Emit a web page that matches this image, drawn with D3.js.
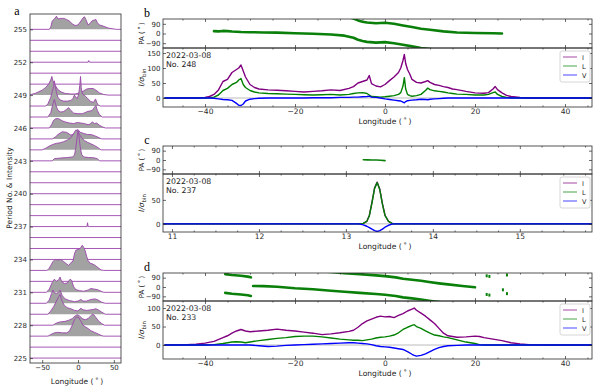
<!DOCTYPE html>
<html>
<head>
<meta charset="utf-8">
<script src="https://cdn.jsdelivr.net/npm/d3@7"></script>
<style>
  body { margin: 0; background: #fff; }
  svg { display: block; font-family: "DejaVu Sans", sans-serif; }
</style>
</head>
<body>
<svg id="chart"></svg>
<script>
const width = 600;
const height = 388;

// ---------- panel a : stacked profiles, heights in units of row spacing ----------
const aPeriods = [225, 226, 227, 228, 229, 230, 231, 232, 233, 234, 235, 236, 237, 238, 239, 240,
  241, 242, 243, 244, 245, 246, 247, 248, 249, 250, 251, 252, 253, 254, 255];
const aPeriodTicks = [225, 228, 231, 234, 237, 240, 243, 246, 249, 252, 255];
const aLonTicks = [-50, 0, 50];

const p255 = [[-40, 0], [-38, 0.2], [-36, 0.75], [-33, 0.95], [-30, 1.2], [-28, 0.95], [-24, 1.0], [-20, 1.0],
  [-16, 0.9], [-12, 0.75], [-8, 0.5], [-4, 0.35], [0, 0.4], [4, 0.75], [7, 1.05], [9, 1.15], [11, 0.9], [14, 0.4],
  [17, 0.55], [20, 0.8], [23, 0.85], [25, 0.9], [27, 0.6], [30, 0.4], [35, 0.3], [42, 0.12], [50, 0.03], [54, 0]];
const p252 = [[14, 0], [15, 0.15], [16, 0]];
const p249 = [[-66, 0.05], [-60, 0.15], [-55, 0.3], [-50, 0.45], [-45, 0.7], [-41, 1.0], [-38, 1.4], [-36.5, 1.7],
  [-35, 1.3], [-32, 0.9], [-28, 0.5], [-24, 0.3], [-18, 0.15], [-10, 0.1], [-4, 0.1], [2, 0.2], [7, 0.35],
  [12, 0.55], [16, 0.6], [21, 0.6], [25, 0.45], [30, 0.2], [36, 0.05], [42, 0]];
const p248 = [[-45, 0], [-42, 0.2], [-38, 0.8], [-36, 1.3], [-34, 1.8], [-33, 2.3], [-32, 1.9], [-30, 1.2],
  [-28, 0.8], [-25, 0.55], [-20, 0.45], [-15, 0.45], [-10, 0.5], [-7, 0.7], [-5, 1.0], [-3, 0.8], [-1, 0.7],
  [1, 1.1], [2.5, 1.9], [3.5, 2.7], [4.5, 1.7], [6, 1.1], [9, 1.0], [11, 0.85], [14, 0.65], [18, 0.4],
  [22, 0.35], [24.5, 0.65], [26, 0.35], [28, 0.1], [31, 0]];
const p247 = [[-42, 0], [-38, 0.4], [-35, 1.2], [-33, 1.6], [-31, 1.1], [-28, 0.6], [-24, 0.45], [-20, 0.5],
  [-16, 0.7], [-13, 0.85], [-10, 0.6], [-6, 0.35], [0, 0.3], [6, 0.3], [10, 0.4], [13, 0.5], [17, 0.55],
  [20, 0.6], [23, 0.9], [25, 1.05], [27, 0.6], [30, 0.2], [34, 0]];
const p246 = [[-40, 0], [-37, 0.3], [-34, 0.7], [-31, 0.85], [-27, 0.85], [-22, 0.65], [-18, 0.55], [-12, 0.45],
  [-6, 0.4], [-1, 0.5], [4, 0.45], [9, 0.4], [14, 0.3], [17, 0.35], [20, 0.55], [23, 0.4], [26, 0.45],
  [30, 0.25], [34, 0.1], [38, 0]];
const p245 = [[-36, 0], [-32, 0.15], [-28, 0.4], [-22, 0.65], [-16, 0.6], [-10, 0.35], [-6, 0.45], [-3, 0.75],
  [0, 0.85], [3, 0.6], [8, 0.5], [13, 0.4], [18, 0.4], [23, 0.3], [28, 0.15], [33, 0]];
const p244 = [[-50, 0], [-45, 0.15], [-40, 0.35], [-35, 0.5], [-30, 0.6], [-25, 0.65], [-20, 0.75], [-15, 0.9],
  [-10, 1.1], [-6, 1.5], [-3, 1.8], [-1, 1.75], [2, 1.4], [5, 1.1], [9, 0.85], [13, 0.7], [18, 0.55],
  [23, 0.4], [28, 0.2], [32, 0]];
const p243 = [[-36, 0], [-33, 0.2], [-25, 0.25], [-15, 0.3], [-8, 0.35], [-5, 0.5], [-3, 1.2], [-1, 2.3],
  [0, 2.7], [1, 2.4], [3, 1.3], [5, 0.6], [8, 0.35], [15, 0.3], [22, 0.28], [27, 0.2], [30, 0]];
const p237 = [[12.5, 0], [13.3, 0.35], [14.1, 0]];
const p233 = [[-44, 0], [-41, 0.1], [-38, 0.45], [-35, 0.8], [-32, 1.0], [-28, 0.95], [-24, 1.0], [-20, 0.8],
  [-16, 0.6], [-13, 0.45], [-10, 0.7], [-7, 0.85], [-5, 1.5], [-3, 1.85], [0, 1.9], [3, 2.0], [6, 2.3],
  [8, 2.1], [10, 1.8], [12, 1.3], [14, 0.9], [17, 0.65], [20, 0.6], [24, 0.45], [28, 0.25], [32, 0.05], [36, 0]];
const p231 = [[-44, 0], [-40, 0.3], [-36, 0.9], [-33, 1.2], [-30, 1.0], [-27, 1.15], [-25, 1.4], [-23, 1.0],
  [-19, 0.8], [-15, 0.85], [-11, 1.2], [-9, 1.1], [-6, 0.5], [-3, 0.25], [2, 0.15], [8, 0.1], [14, 0.2],
  [18, 0.35], [22, 0.3], [27, 0.25], [32, 0.1], [36, 0]];
const p230 = [[-44, 0], [-40, 0.3], [-37, 0.9], [-35, 1.2], [-33, 0.95], [-30, 0.9], [-27, 1.0], [-25, 1.2],
  [-22, 0.7], [-18, 0.4], [-12, 0.25], [-5, 0.15], [0, 0.2], [4, 0.35], [7, 0.2], [12, 0.2], [18, 0.35],
  [24, 0.4], [28, 0.3], [33, 0.1], [38, 0]];
const p229 = [[-42, 0], [-38, 0.3], [-34, 0.7], [-30, 1.2], [-27, 1.6], [-25, 1.8], [-23, 1.3], [-19, 0.8],
  [-15, 0.6], [-10, 0.5], [-5, 0.35], [0, 0.3], [4, 0.55], [7, 0.4], [12, 0.35], [18, 0.4], [22, 0.45],
  [25, 0.5], [28, 0.4], [33, 0.2], [38, 0]];
const p228 = [[-35, 0], [-30, 0.2], [-25, 0.3], [-18, 0.35], [-13, 0.45], [-8, 0.6], [-4, 0.85], [-1, 0.95],
  [2, 0.85], [6, 0.6], [10, 0.5], [14, 0.6], [17, 0.8], [20, 1.0], [22, 0.95], [25, 0.7], [29, 0.35],
  [33, 0.15], [37, 0]];
const p227 = [[-42, 0], [-38, 0.15], [-33, 0.3], [-28, 0.35], [-22, 0.3], [-16, 0.3], [-12, 0.45], [-8, 1.0],
  [-5, 1.5], [-2, 1.75], [1, 1.7], [4, 1.35], [7, 1.0], [10, 0.85], [14, 0.7], [18, 0.5], [23, 0.35],
  [28, 0.2], [33, 0.05], [36, 0]];

// ---------- panel b : No. 248 ----------
const bLon = [-49, -42, -40, -39, -38, -37, -36, -35, -34, -33, -32.5, -32, -31.5, -31, -30, -29, -28, -26, -24, -22,
  -20, -18, -16, -14, -12, -10, -8, -7, -6, -5, -4, -3.5, -3, -2, -1, 0, 1, 2, 3, 3.5,
  4, 4.3, 4.6, 5, 5.5, 6, 7, 8, 9, 9.5, 10, 11, 12, 13, 14, 15, 16, 18, 20, 22,
  23, 24, 24.5, 25, 26, 27, 28, 30, 32, 46];
const bI = [0, 0, 2, 5, 12, 27, 55, 62, 85, 95, 100, 110, 90, 70, 45, 35, 30, 27, 26, 24,
  22, 20, 22, 24, 27, 25, 32, 38, 50, 55, 60, 75, 48, 40, 37, 45, 58, 70, 85, 100,
  125, 145, 115, 95, 80, 62, 52, 50, 55, 58, 52, 45, 42, 38, 35, 30, 28, 22, 17, 16,
  18, 30, 38, 28, 17, 9, 5, 2, 0, 0];
const bL = [0, 0, 0, 1, 3, 10, 25, 32, 45, 52, 60, 65, 45, 35, 25, 20, 17, 15, 14, 13,
  12, 11, 10, 11, 12, 10, 12, 15, 17, 18, 15, 10, 5, 4, 3, 4, 6, 8, 12, 18,
  40, 68, 30, 12, 8, 6, 8, 12, 25, 33, 28, 24, 22, 20, 17, 15, 13, 12, 10, 10,
  12, 18, 20, 12, 5, 2, 1, 0, 0, 0];
const bV = [0, 0, 0, 0, -1, -3, -5, -6, -8, -18, -24, -25, -20, -10, -4, -2, -1, 0, 0, 0,
  0, 0, 1, 1, 1, 2, 2, 3, 3, 4, 5, 6, 3, 2, 0, -3, -5, -7, -9, -10,
  -14, -16, -12, -9, -8, -7, -6, -4, -5, -6, -4, -3, -2, -1, 0, 0, 0, 0, 0, 0,
  0, 0, 0, 0, 0, 0, 0, 0, 0, 0];
const bPaLon = [-38, -37, -36, -35, -34, -32, -30, -27, -24, -20, -16, -12, -9, -7, -6, -5, -4, -2, 0, 2,
  4, 6, 8, 10, 13, 16, 20, 24, 26];
const bPa = [22, 20, 24, 22, 18, 14, 12, 10, 8, 3, -3, -10, -20, -40, -58, -70, -78, -85, -80, -90,
  75, 60, 45, 35, 20, 10, 5, 2, 0];

// ---------- panel c : No. 237 ----------
const cLon = [10.9, 13.15, 13.2, 13.24, 13.27, 13.3, 13.33, 13.36, 13.39, 13.42, 13.45, 13.49, 13.54, 15.85];
const cI = [0, 0, 1, 5, 18, 45, 75, 87, 72, 42, 18, 5, 0, 0];
const cL = [0, 0, 1, 5, 17, 44, 74, 86, 71, 41, 17, 5, 0, 0];
const cV = [0, 0, -2, -5, -8, -11, -14, -16, -14, -11, -7, -3, 0, 0];
const cPaLon = [13.2, 13.25, 13.3, 13.35, 13.4, 13.45];
const cPa = [2, 1, 0, 0, -2, -6];

// ---------- panel d : No. 233 ----------
const dLon = [-49, -44, -42, -40, -38, -36, -35, -34, -33, -32, -31, -30, -28, -26, -24, -22, -20, -18, -16, -14,
  -12, -10, -8, -7, -6, -5, -4, -3, -2, -1, 0, 1, 2, 3, 4, 5, 6, 6.5, 7, 8,
  9, 10, 11, 12, 13, 14, 16, 18, 20, 21, 22, 24, 26, 28, 30, 32, 36, 46];
const dI = [0, 1, 2, 5, 10, 20, 25, 32, 38, 42, 38, 36, 38, 40, 43, 40, 38, 35, 32, 28,
  30, 33, 37, 40, 48, 58, 65, 70, 75, 78, 76, 77, 74, 80, 85, 92, 97, 100, 94, 86,
  78, 68, 58, 45, 32, 25, 21, 22, 24, 23, 20, 16, 12, 6, 3, 1, 0, 0];
const dL = [0, 0, 0, 0, 1, 4, 6, 8, 9, 8, 6, 8, 12, 15, 18, 20, 23, 24, 24, 22,
  19, 16, 14, 13, 13, 12, 14, 16, 19, 21, 22, 24, 27, 33, 42, 48, 53, 55, 50, 45,
  38, 32, 27, 25, 22, 20, 14, 8, 4, 1, 0, 0, 0, 0, 0, 0, 0, 0];
const dV = [0, 0, 0, 0, 0, 0, 0, 0, 0, 0, 0, 0, -2, -4, -3, -1, 0, 1, 2, 3,
  4, 5, 6, 6, 5, 4, 3, 1, -2, -4, -5, -6, -8, -10, -12, -18, -25, -28, -30, -28,
  -24, -18, -12, -7, -4, -2, -1, 0, 0, 0, 0, 0, 0, 0, 0, 0, 0, 0];
const dPaLon = [-35.5, -34, -32, -30.5, -29.8, -29.5, -29.3, -27, -24, -20, -16, -12, -9, -5.6, -2, 0, 2.4,
  4, 6, 8, 9.8, 12, 14, 17.2, 20];
const dPa = [-57, -65, -72, -80, -87, null, 10, 8, 2, -12, -22, -36, -46, -57, -68, -75, -87,
  80, 70, 60, 48, 35, 25, 9, -3];
const dPaDotLon = [22.6, 23.2, 26.2, 27.1];
const dPaDot = [-72, -78, -27, -64];

const stokesNames = ['I', 'L', 'V'];
const stokesColors = ['#800080', '#008000', '#0000ff'];

const svg = d3.select('#chart')
  .attr('width', width)
  .attr('height', height);

const frameColor = '#2a2a2a';

function styleAxis(size) {
  return (sel) => {
    sel.select('.domain').remove();
    sel.attr('font-size', size).attr('font-family', '"DejaVu Sans", sans-serif').attr('color', frameColor);
    sel.selectAll('line').attr('stroke-width', 0.7);
  };
}

// ---------- draw panel a ----------
const aX = d3.scaleLinear().domain([-67, 60]).range([30, 121]);
const aY = d3.scaleLinear().domain([224.55, 256.4]).range([363, 14]);
const aH = d3.scaleLinear().domain([0, 1]).range([0, aY(225) - aY(226)]);

const aProfiles = new Map([
  [255, p255], [252, p252], [249, p249], [248, p248], [247, p247], [246, p246], [245, p245],
  [244, p244], [243, p243], [237, p237], [233, p233], [231, p231], [230, p230], [229, p229],
  [228, p228], [227, p227]
]);

svg.append('clipPath').attr('id', 'clip-a')
  .append('rect').attr('x', 30).attr('y', 14).attr('width', 91).attr('height', 349);

const rowsG = svg.append('g').attr('clip-path', 'url(#clip-a)');
aPeriods.slice().reverse().forEach((p) => {
  const pts = [[-67, 0], ...(aProfiles.get(p) || []), [60, 0]];
  const base = aY(p);
  rowsG.append('path')
    .attr('d', d3.area().x((d) => aX(d[0])).y0(base).y1((d) => base - aH(d[1]))(pts))
    .attr('fill', '#a2a2a2');
  rowsG.append('path')
    .attr('d', d3.line().x((d) => aX(d[0])).y((d) => base - aH(d[1]))(pts))
    .attr('fill', 'none')
    .attr('stroke', '#9c45ad')
    .attr('stroke-width', 0.9);
});

svg.append('rect').attr('x', 30).attr('y', 14).attr('width', 91).attr('height', 349)
  .attr('fill', 'none').attr('stroke', frameColor).attr('stroke-width', 0.8);

svg.append('g').attr('transform', 'translate(30,0)')
  .call(d3.axisLeft(aY).tickValues(aPeriodTicks).tickSize(-3).tickPadding(3))
  .call(styleAxis(7));
svg.append('g').attr('transform', 'translate(0,363)')
  .call(d3.axisBottom(aX).tickValues(aLonTicks).tickSize(-3).tickPadding(2).tickFormat(d3.format('d')))
  .call(styleAxis(7));

svg.append('text').attr('x', 17).attr('y', 15).attr('text-anchor', 'middle')
  .attr('font-family', '"Liberation Serif", serif').attr('font-size', 12).text('a');
svg.append('text').attr('transform', 'translate(12,188) rotate(-90)').attr('text-anchor', 'middle')
  .attr('font-size', 7.5).attr('fill', '#222').text('Period No. & Intensity');
svg.append('text').attr('x', 77).attr('y', 384).attr('text-anchor', 'middle')
  .attr('font-size', 7.5).attr('fill', '#222').text('Longitude (\u2009\u02da\u2009)');

// ---------- draw panels b, c, d ----------
function unwrapSegments(lons, vals) {
  const segs = [];
  let cur = [];
  lons.forEach((lon, i) => {
    let v = vals[i];
    if (v === null) {
      if (cur.length) segs.push(cur);
      cur = [];
      return;
    }
    if (cur.length) {
      const prev = cur[cur.length - 1][1];
      while (v - prev > 90) v -= 180;
      while (v - prev < -90) v += 180;
    }
    cur.push([lon, v]);
  });
  if (cur.length) segs.push(cur);
  return segs;
}

function drawPanel(o) {
  const x0 = 163;
  const x1 = 592;
  const x = d3.scaleLinear().domain(o.xDomain).range([x0, x1]);
  const yPa = d3.scaleLinear().domain([-135, 135]).range([o.mid, o.top]);
  const yI = d3.scaleLinear().domain(o.iDomain).range([o.bottom, o.mid]);
  const g = svg.append('g');

  g.append('clipPath').attr('id', `clip-pa-${o.id}`)
    .append('rect').attr('x', x0).attr('y', o.top).attr('width', x1 - x0).attr('height', o.mid - o.top);
  g.append('clipPath').attr('id', `clip-i-${o.id}`)
    .append('rect').attr('x', x0).attr('y', o.mid).attr('width', x1 - x0).attr('height', o.bottom - o.mid);

  // PA: every point drawn at PA and PA +/- 180
  const paG = g.append('g').attr('clip-path', `url(#clip-pa-${o.id})`);
  unwrapSegments(o.paLon, o.pa).forEach((seg) => {
    [-360, -180, 0, 180, 360].forEach((off) => {
      paG.append('path')
        .attr('d', d3.line().x((d) => x(d[0])).y((d) => yPa(d[1] + off))(seg))
        .attr('fill', 'none')
        .attr('stroke', '#0a800a')
        .attr('stroke-width', o.paWidth)
        .attr('stroke-linejoin', 'round')
        .attr('stroke-linecap', 'round');
    });
  });
  (o.dotLon || []).forEach((lon, i) => {
    [-180, 0, 180].forEach((off) => {
      paG.append('rect')
        .attr('x', x(lon) - 1).attr('y', yPa(o.dot[i] + off) - 1.5)
        .attr('width', 2).attr('height', 3)
        .attr('fill', '#0a800a');
    });
  });

  // I, L, V profiles
  const iG = g.append('g').attr('clip-path', `url(#clip-i-${o.id})`);
  iG.append('line').attr('x1', x0).attr('x2', x1).attr('y1', yI(0)).attr('y2', yI(0))
    .attr('stroke', '#aaa').attr('stroke-width', 0.8);
  [o.I, o.L, o.V].forEach((vals, k) => {
    iG.append('path')
      .datum(vals)
      .attr('d', d3.line().x((d, i) => x(o.lon[i])).y((d) => yI(d)))
      .attr('fill', 'none')
      .attr('stroke', stokesColors[k])
      .attr('stroke-width', 1.4)
      .attr('stroke-linejoin', 'round');
  });

  // frames
  [[o.top, o.mid], [o.mid, o.bottom]].forEach(([t, b]) => {
    g.append('rect').attr('x', x0).attr('y', t).attr('width', x1 - x0).attr('height', b - t)
      .attr('fill', 'none').attr('stroke', frameColor).attr('stroke-width', 0.8);
  });

  // axes, ticks pointing inward on every side
  const fmt = d3.format('d');
  g.append('g').attr('transform', `translate(0,${o.bottom})`)
    .call(d3.axisBottom(x).tickValues(o.xTicks).tickSize(-3).tickPadding(2).tickFormat(fmt))
    .call(styleAxis(7.5));
  g.append('g').attr('transform', `translate(0,${o.bottom})`)
    .call(d3.axisBottom(x).tickValues(o.xMinor).tickSize(-1.5).tickFormat(''))
    .call(styleAxis(7.5));
  [o.top, o.mid].forEach((t) => {
    g.append('g').attr('transform', `translate(0,${t})`)
      .call(d3.axisTop(x).tickValues(o.xTicks).tickSize(-3).tickFormat(''))
      .call(styleAxis(7.5));
    g.append('g').attr('transform', `translate(0,${t})`)
      .call(d3.axisTop(x).tickValues(o.xMinor).tickSize(-1.5).tickFormat(''))
      .call(styleAxis(7.5));
  });
  g.append('g').attr('transform', `translate(0,${o.mid})`)
    .call(d3.axisBottom(x).tickValues(o.xTicks).tickSize(-3).tickFormat(''))
    .call(styleAxis(7.5));
  [[yPa, [-90, 0, 90]], [yI, o.iTicks]].forEach(([y, ticks]) => {
    g.append('g').attr('transform', `translate(${x0},0)`)
      .call(d3.axisLeft(y).tickValues(ticks).tickSize(-3).tickPadding(2.5).tickFormat(fmt))
      .call(styleAxis(7));
    g.append('g').attr('transform', `translate(${x1},0)`)
      .call(d3.axisRight(y).tickValues(ticks).tickSize(-3).tickFormat(''))
      .call(styleAxis(7));
  });

  // labels
  g.append('text').attr('x', 147).attr('y', o.top - 2).attr('text-anchor', 'middle')
    .attr('font-family', '"Liberation Serif", serif').attr('font-size', 12).text(o.id);
  g.append('text').attr('transform', `translate(144,${(o.top + o.mid) / 2}) rotate(-90)`)
    .attr('text-anchor', 'middle').attr('font-size', 7).attr('fill', '#222').text('PA (\u2009\u02da\u2009)');
  const il = g.append('text').attr('transform', `translate(144,${(o.mid + o.bottom) / 2}) rotate(-90)`)
    .attr('text-anchor', 'middle').attr('font-size', 7.5).attr('fill', '#222');
  il.append('tspan').attr('font-style', 'italic').text('I/\u03c3');
  il.append('tspan').attr('font-size', 5.5).attr('dy', 2).text('bin');
  g.append('text').attr('x', 166).attr('y', o.mid + 10).attr('font-size', 7.8).attr('fill', '#222').text('2022-03-08');
  g.append('text').attr('x', 166).attr('y', o.mid + 18.5).attr('font-size', 7.8).attr('fill', '#222').text(o.no);
  g.append('text').attr('x', 385).attr('y', o.bottom + 16.5).attr('text-anchor', 'middle')
    .attr('font-size', 7.6).attr('fill', '#222').text('Longitude (\u2009\u02da\u2009)');

  // legend
  const lg = g.append('g').attr('transform', `translate(560,${o.mid + 3})`);
  lg.append('rect').attr('width', 30).attr('height', 31).attr('rx', 2)
    .attr('fill', '#fff').attr('stroke', '#ccc').attr('stroke-width', 0.8);
  stokesNames.forEach((name, k) => {
    lg.append('line').attr('x1', 3).attr('x2', 17).attr('y1', 6 + k * 9).attr('y2', 6 + k * 9)
      .attr('stroke', stokesColors[k]).attr('stroke-opacity', 0.6).attr('stroke-width', 1.2);
    lg.append('text').attr('x', 22).attr('y', 8.5 + k * 9).attr('font-size', 6.5).attr('fill', '#222').text(name);
  });
}

drawPanel({
  id: 'b', no: 'No. 248', top: 19, mid: 48, bottom: 107,
  xDomain: [-49.33, 46], xTicks: [-40, -20, 0, 20, 40],
  xMinor: [-45, -35, -30, -25, -15, -10, -5, 5, 10, 15, 25, 30, 35, 45],
  iDomain: [-30, 166.7], iTicks: [0, 50, 100, 150],
  lon: bLon, I: bI, L: bL, V: bV, paLon: bPaLon, pa: bPa, paWidth: 2.6
});
drawPanel({
  id: 'c', no: 'No. 237', top: 146, mid: 174, bottom: 232,
  xDomain: [10.897, 15.83], xTicks: [11, 12, 13, 14, 15],
  xMinor: [11.25, 11.5, 11.75, 12.25, 12.5, 12.75, 13.25, 13.5, 13.75, 14.25, 14.5, 14.75, 15.25, 15.5, 15.75],
  iDomain: [-17, 104], iTicks: [0, 50],
  lon: cLon, I: cI, L: cL, V: cV, paLon: cPaLon, pa: cPa, paWidth: 1.6
});
drawPanel({
  id: 'd', no: 'No. 233', top: 273, mid: 301, bottom: 359,
  xDomain: [-49.33, 46], xTicks: [-40, -20, 0, 20, 40],
  xMinor: [-45, -35, -30, -25, -15, -10, -5, 5, 10, 15, 25, 30, 35, 45],
  iDomain: [-37.8, 119], iTicks: [0, 50, 100],
  lon: dLon, I: dI, L: dL, V: dV, paLon: dPaLon, pa: dPa, paWidth: 2.6,
  dotLon: dPaDotLon, dot: dPaDot
});
</script>
</body>
</html>
